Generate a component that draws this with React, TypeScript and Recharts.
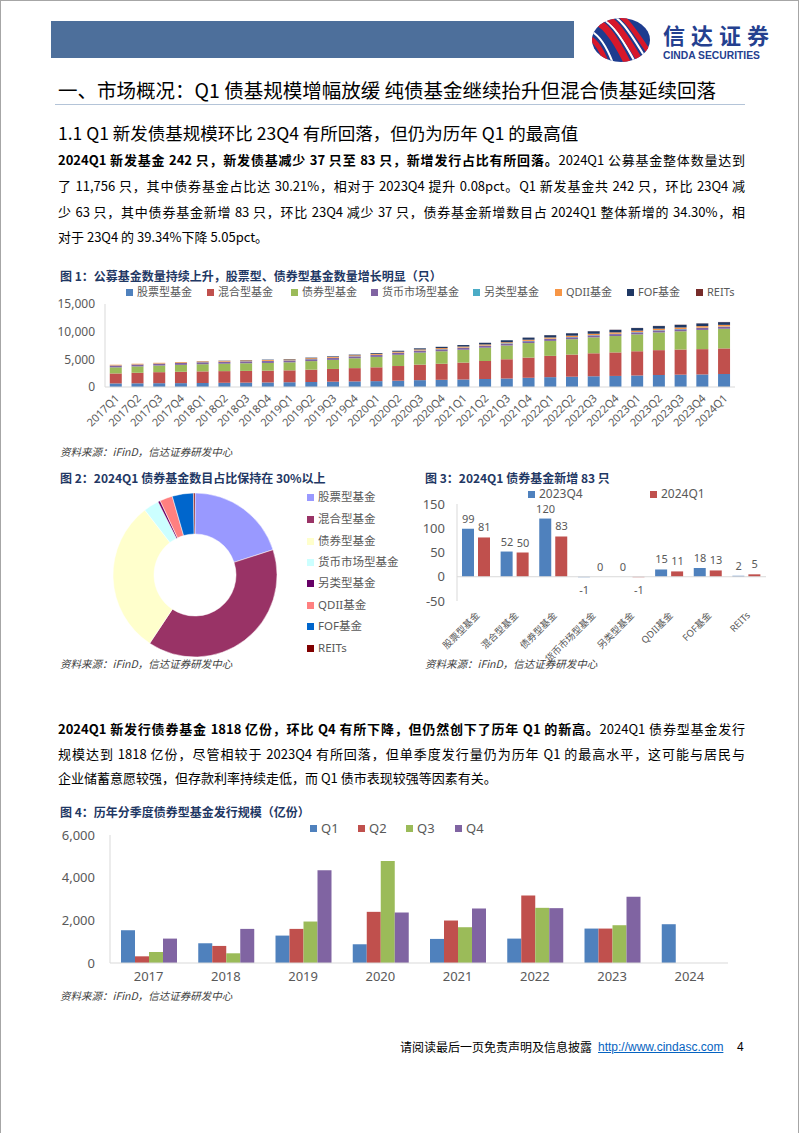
import React from 'react';
import { BarChart, ComposedChart, Bar, Line, XAxis, YAxis, PieChart, Pie, Cell, LabelList, ReferenceLine } from 'recharts';

// ---------- Figure 1 data (number of public funds by type) ----------
const quarters = ['2017Q1','2017Q2','2017Q3','2017Q4','2018Q1','2018Q2','2018Q3','2018Q4','2019Q1','2019Q2','2019Q3','2019Q4','2020Q1','2020Q2','2020Q3','2020Q4','2021Q1','2021Q2','2021Q3','2021Q4','2022Q1','2022Q2','2022Q3','2022Q4','2023Q1','2023Q2','2023Q3','2023Q4','2024Q1'];
const stockFunds = [650,670,690,700,720,760,790,820,860,900,960,1010,1060,1140,1240,1300,1360,1450,1550,1670,1780,1860,1940,2000,2080,2170,2230,2272,2353];
const mixedFunds = [1800,1900,1990,2050,2100,2110,2120,2130,2150,2230,2300,2400,2500,2650,2800,2900,3050,3250,3450,3650,3850,4000,4150,4250,4380,4490,4540,4570,4620];
const bondFunds = [1100,1150,1200,1250,1300,1340,1380,1400,1450,1550,1640,1780,1880,2030,2180,2260,2320,2400,2500,2620,2700,2780,2880,2960,3050,3200,3300,3469,3552];
const moneyFunds = [330,335,340,345,345,340,340,340,335,335,335,335,335,335,335,335,335,335,335,335,340,345,350,350,355,355,355,355,355];
const altFunds = [20,20,22,22,25,28,30,30,32,35,37,40,42,45,48,50,52,54,55,56,56,56,57,57,57,57,56,56,55];
const qdiiFunds = [125,128,132,135,140,145,150,155,158,162,165,170,175,180,185,190,195,200,205,215,225,235,245,255,265,272,280,284,295];
const fofFunds = [0,0,0,6,30,45,60,70,80,95,105,120,140,170,200,230,270,300,340,380,410,430,450,460,468,472,475,477,490];
const reitsFunds = [0,0,0,0,0,0,0,0,0,0,0,0,0,0,0,0,2,9,9,11,12,14,20,24,25,28,29,31,36];
const fundTypeNames = ['股票型基金','混合型基金','债券型基金','货币市场型基金','另类型基金','QDII基金','FOF基金','REITs'];
const fund1Ticks = [0, 5000, 10000, 15000];

// ---------- Figure 3 data (new funds) ----------
const newCats = ['股票型基金','混合型基金','债券型基金','货币市场型基金','另类型基金','QDII基金','FOF基金','REITs'];
const new2023Q4 = [99,52,120,-1,0,15,18,2];
const new2024Q1 = [81,50,83,0,-1,11,13,5];
const fig3Ticks = [-50, 0, 50, 100, 150];

// ---------- Figure 4 data (bond fund issuance, 亿份) ----------
const years = ['2017','2018','2019','2020','2021','2022','2023','2024'];
const issueQ1 = [1536,925,1285,878,1129,1144,1614,1818];
const issueQ2 = [313,800,1599,2398,1991,3166,1614,null];
const issueQ3 = [517,455,1944,4781,1677,2586,1771,null];
const issueQ4 = [1144,1599,4342,2367,2555,2571,3103,null];
const fig4Ticks = [0, 2000, 4000, 6000];

// ---------- styling ----------
const fig1Colors = ['#4F81BD','#C0504D','#9BBB59','#8064A2','#4BACC6','#F79646','#1F3864','#772C2A'];
const pieColors = ['#9999FF','#993366','#FFFFCC','#CCFFFF','#660066','#FF8080','#0066CC','#800000'];
const qColors = ['#4F81BD','#C0504D','#9BBB59','#8064A2'];
const CJK = "'Noto Sans CJK SC', 'Noto Sans', sans-serif";
const CHART_FONT = "'Noto Sans', 'Noto Sans CJK SC', sans-serif";
const AXIS_GRAY = '#D9D9D9';
const TXT_GRAY = '#595959';
const TITLE_BLUE = '#1F3864';

const fundSeries = [stockFunds, mixedFunds, bondFunds, moneyFunds, altFunds, qdiiFunds, fofFunds, reitsFunds];
const fundKeys = ['stock','mixed','bond','money','alt','qdii','fof','reits'];
const fundData = quarters.map((q, i) => {
  const row: any = { q };
  fundKeys.forEach((k, j) => { row[k] = fundSeries[j][i]; });
  return row;
});
const pieData = fundTypeNames.map((name, j) => ({ name, value: fundSeries[j][fundSeries[j].length - 1] }));
const newData = newCats.map((c, i) => ({ c, q4: new2023Q4[i], q1: new2024Q1[i] }));
const issueData = years.map((y, i) => ({ y, Q1: issueQ1[i], Q2: issueQ2[i], Q3: issueQ3[i], Q4: issueQ4[i] }));

const fmt = (v: number) => v.toLocaleString('en-US');

function T({ x, y, size, children, style }: any) {
  return (
    <div style={{ position: 'absolute', left: x, top: y - size * 0.7, fontSize: size, lineHeight: `${size * 1.4}px`, whiteSpace: 'nowrap', ...style }}>
      {children}
    </div>
  );
}

function JLine({ x, y, children, last }: any) {
  return (
    <div style={{ position: 'absolute', left: x, top: y - 9, width: 687, fontSize: 13, lineHeight: '18px', textAlign: 'justify', textAlignLast: last ? 'left' : 'justify', color: '#000', fontFamily: CJK } as any}>
      {children}
    </div>
  );
}

function LegendItem({ x, y, color, label, size = 11 }: any) {
  return (
    <div style={{ position: 'absolute', left: x, top: y - 7, height: 14, display: 'flex', alignItems: 'center', whiteSpace: 'nowrap', fontFamily: CHART_FONT, fontSize: size, lineHeight: '14px', color: TXT_GRAY }}>
      <span style={{ display: 'inline-block', width: 7, height: 7, background: color, marginRight: 4 }} />
      <span>{label}</span>
    </div>
  );
}

function RotTick(props: any) {
  const { x, y, payload, fs, ox, oy } = props;
  return (
    <g transform={`translate(${x + ox},${y + oy}) rotate(-45)`}>
      <text x={0} y={0} textAnchor="end" fontSize={fs} fill={TXT_GRAY} fontFamily={CHART_FONT}>{payload.value}</text>
    </g>
  );
}

// labels for figure 3: drawn at each value point, shifted onto its bar (bar 12px, gap 4px)
const makePointLabel = (shift: number) => (props: any) => {
  const { x, y, value } = props;
  if (x == null || y == null) return null;
  const ty = value >= 0 ? y - 6 : y + 17;
  return <text x={x + shift} y={ty} textAnchor="middle" fontSize={11} fill={TXT_GRAY} fontFamily={CHART_FONT}>{value}</text>;
};

function Logo() {
  return (
    <svg width={66} height={48} style={{ position: 'absolute', left: 588, top: 16 }}>
      <defs>
        <clipPath id="lc"><ellipse cx={33} cy={24} rx={29} ry={22} /></clipPath>
      </defs>
      <ellipse cx={33} cy={24} rx={29} ry={22} fill="#1D3C8F" />
      <g clipPath="url(#lc)">
        <path d="M-2 4 C 14 2, 26 20, 40 48" stroke="#D7182A" strokeWidth={7} fill="none" />
        <path d="M4 0 C 20 0, 32 18, 48 48" stroke="#fff" strokeWidth={2} fill="none" />
        <path d="M8 -2 C 24 -2, 36 18, 54 48" stroke="#D7182A" strokeWidth={6} fill="none" />
        <path d="M14 -4 C 30 -4, 42 16, 60 46" stroke="#fff" strokeWidth={2} fill="none" />
        <path d="M18 -6 C 34 -6, 46 14, 66 44" stroke="#D7182A" strokeWidth={5} fill="none" />
        <path d="M-6 14 C 8 12, 18 28, 26 50" stroke="#fff" strokeWidth={2} fill="none" />
        <path d="M-8 20 C 4 18, 14 32, 20 52" stroke="#D7182A" strokeWidth={5} fill="none" />
      </g>
    </svg>
  );
}

export default function App() {
  return (
    <div style={{ position: 'absolute', left: 0, top: 0, width: 802, height: 1133, background: '#fff', overflow: 'hidden', fontFamily: CJK }}>
      {/* page border */}
      <div style={{ position: 'absolute', left: 0, top: 0, width: 797, height: 1140, borderLeft: '1px solid #A6A6A6', borderTop: '1px solid #A6A6A6', borderRight: '1px solid #A6A6A6' }} />

      {/* header */}
      <div style={{ position: 'absolute', left: 51, top: 21, width: 523, height: 37, background: '#4D6F9B' }} />
      <Logo />
      <div style={{ position: 'absolute', left: 663, top: 23, fontSize: 22, lineHeight: '22px', fontWeight: 700, color: '#24408F', letterSpacing: 6, fontFamily: CJK }}>信达证券</div>
      <div style={{ position: 'absolute', left: 663, top: 51, fontSize: 10.3, lineHeight: '10px', fontWeight: 700, color: '#24408F', fontFamily: "'Liberation Sans', Arial, sans-serif" }}>CINDA SECURITIES</div>

      <T x={58} y={90} size={19.5} style={{ color: '#000' }}>一、市场概况：Q1 债基规模增幅放缓 纯债基金继续抬升但混合债基延续回落</T>
      <div style={{ position: 'absolute', left: 55, top: 104, width: 690, height: 1, background: '#B4C4D8' }} />
      <T x={58} y={133} size={17.5} style={{ color: '#000' }}>1.1 Q1 新发债基规模环比 23Q4 有所回落，但仍为历年 Q1 的最高值</T>

      {/* paragraph 1 */}
      <JLine x={58} y={160}><b>2024Q1 新发基金 242 只，新发债基减少 37 只至 83 只，新增发行占比有所回落。</b>2024Q1 公募基金整体数量达到</JLine>
      <JLine x={58} y={186}>了 11,756 只，其中债券基金占比达 30.21%，相对于 2023Q4 提升 0.08pct。Q1 新发基金共 242 只，环比 23Q4 减</JLine>
      <JLine x={58} y={212}>少 63 只，其中债券基金新增 83 只，环比 23Q4 减少 37 只，债券基金新增数目占 2024Q1 整体新增的 34.30%，相</JLine>
      <JLine x={58} y={237} last>对于 23Q4 的 39.34%下降 5.05pct。</JLine>

      {/* Figure 1 */}
      <T x={60} y={276} size={12} style={{ color: TITLE_BLUE, fontWeight: 700 }}>图 1：公募基金数量持续上升，股票型、债券型基金数量增长明显（只）</T>
      {[126, 207, 291, 371, 473, 555, 627, 696].map((lx, i) => (
        <LegendItem key={i} x={lx} y={292} color={fig1Colors[i]} label={fundTypeNames[i]} />
      ))}
      <div style={{ position: 'absolute', left: 0, top: 285 }}>
        <BarChart width={760} height={147} data={fundData} margin={{ top: 19, right: 25, bottom: 0, left: 55 }} barCategoryGap="22%">
          <XAxis dataKey="q" interval={0} height={45} tickLine={false} tickSize={0} axisLine={{ stroke: AXIS_GRAY }}
            tick={(p: any) => <RotTick {...p} fs={11} ox={4} oy={10} />} />
          <YAxis width={50} domain={[0, 15000]} ticks={fund1Ticks} tickFormatter={fmt} tickLine={false} tickSize={0} tickMargin={10}
            axisLine={{ stroke: AXIS_GRAY }} tick={{ fontSize: 12, fill: TXT_GRAY, fontFamily: CHART_FONT }} />
          {fundKeys.map((k, i) => (
            <Bar key={k} dataKey={k} stackId="a" fill={fig1Colors[i]} isAnimationActive={false} />
          ))}
        </BarChart>
      </div>
      <T x={60} y={452} size={10.5} style={{ color: '#404040', fontStyle: 'italic' }}>资料来源：iFinD，信达证券研发中心</T>

      {/* Figure 2 */}
      <T x={60} y={478} size={12} style={{ color: TITLE_BLUE, fontWeight: 700 }}>图 2：2024Q1 债券基金数目占比保持在 30%以上</T>
      <div style={{ position: 'absolute', left: 100, top: 480 }}>
        <PieChart width={180} height={180}>
          <Pie data={pieData} dataKey="value" nameKey="name" cx={90} cy={90} innerRadius={41} outerRadius={82}
            startAngle={90} endAngle={-270} stroke="#fff" strokeWidth={0.5} isAnimationActive={false}>
            {pieData.map((d, i) => <Cell key={d.name} fill={pieColors[i]} />)}
          </Pie>
        </PieChart>
      </div>
      {[497, 519, 541, 562, 583, 605, 626, 648].map((ly, i) => (
        <LegendItem key={i} x={307} y={ly} color={pieColors[i]} label={fundTypeNames[i]} size={11.5} />
      ))}
      <T x={60} y={664} size={10.5} style={{ color: '#404040', fontStyle: 'italic' }}>资料来源：iFinD，信达证券研发中心</T>

      {/* Figure 3 */}
      <T x={425} y={478} size={12} style={{ color: TITLE_BLUE, fontWeight: 700 }}>图 3：2024Q1 债券基金新增 83 只</T>
      <LegendItem x={528} y={494} color={qColors[0]} label="2023Q4" size={12} />
      <LegendItem x={650} y={494} color={qColors[1]} label="2024Q1" size={12} />
      <div style={{ position: 'absolute', left: 400, top: 485 }}>
        <ComposedChart width={380} height={190} data={newData} margin={{ top: 19, right: 14, bottom: 14, left: 20 }} barGap={4} barSize={12}>
          <XAxis dataKey="c" interval={0} height={60} axisLine={false} tickLine={false} tickSize={0}
            tick={(p: any) => <RotTick {...p} fs={9.5} ox={4} oy={13} />} />
          <YAxis width={37} domain={[-50, 150]} ticks={fig3Ticks} tickLine={false} tickSize={0} tickMargin={12}
            axisLine={{ stroke: AXIS_GRAY }} tick={{ fontSize: 13, fill: TXT_GRAY, fontFamily: CHART_FONT }} />
          <ReferenceLine y={0} stroke={AXIS_GRAY} />
          <Bar dataKey="q4" fill={qColors[0]} isAnimationActive={false} />
          <Bar dataKey="q1" fill={qColors[1]} isAnimationActive={false} />
          <Line dataKey="q4" stroke="none" dot={false} activeDot={false} legendType="none" isAnimationActive={false}>
            <LabelList dataKey="q4" content={makePointLabel(-8)} />
          </Line>
          <Line dataKey="q1" stroke="none" dot={false} activeDot={false} legendType="none" isAnimationActive={false}>
            <LabelList dataKey="q1" content={makePointLabel(8)} />
          </Line>
        </ComposedChart>
      </div>
      <T x={425} y={664} size={10.5} style={{ color: '#404040', fontStyle: 'italic' }}>资料来源：iFinD，信达证券研发中心</T>

      {/* paragraph 2 */}
      <JLine x={58} y={729}><b>2024Q1 新发行债券基金 1818 亿份，环比 Q4 有所下降，但仍然创下了历年 Q1 的新高。</b>2024Q1 债券型基金发行</JLine>
      <JLine x={58} y={754}>规模达到 1818 亿份，尽管相较于 2023Q4 有所回落，但单季度发行量仍为历年 Q1 的最高水平，这可能与居民与</JLine>
      <JLine x={58} y={778} last>企业储蓄意愿较强，但存款利率持续走低，而 Q1 债市表现较强等因素有关。</JLine>

      {/* Figure 4 */}
      <T x={60} y={812} size={12} style={{ color: TITLE_BLUE, fontWeight: 700 }}>图 4：历年分季度债券型基金发行规模（亿份）</T>
      {['Q1', 'Q2', 'Q3', 'Q4'].map((q, i) => (
        <LegendItem key={q} x={[310, 358, 406, 455][i]} y={828} color={qColors[i]} label={q} size={13} />
      ))}
      <div style={{ position: 'absolute', left: 0, top: 820 }}>
        <BarChart width={760} height={168} data={issueData} margin={{ top: 15, right: 32, bottom: 0, left: 60 }} barGap={0} barSize={14}>
          <XAxis dataKey="y" interval={0} height={25} tickLine={false} tickSize={0} tickMargin={9} axisLine={{ stroke: AXIS_GRAY }}
            tick={{ fontSize: 13, fill: TXT_GRAY, fontFamily: CHART_FONT }} />
          <YAxis width={50} domain={[0, 6000]} ticks={fig4Ticks} tickFormatter={fmt} tickLine={false} tickSize={0} tickMargin={15}
            axisLine={{ stroke: AXIS_GRAY }} tick={{ fontSize: 13, fill: TXT_GRAY, fontFamily: CHART_FONT }} />
          {['Q1', 'Q2', 'Q3', 'Q4'].map((k, i) => (
            <Bar key={k} dataKey={k} fill={qColors[i]} isAnimationActive={false} />
          ))}
        </BarChart>
      </div>
      <T x={60} y={996} size={10.5} style={{ color: '#404040', fontStyle: 'italic' }}>资料来源：iFinD，信达证券研发中心</T>

      {/* footer */}
      <T x={400} y={1047} size={12} style={{ color: '#000' }}>请阅读最后一页免责声明及信息披露</T>
      <T x={598} y={1047} size={12} style={{ color: '#0563C1', textDecoration: 'underline', fontFamily: "'Liberation Sans', Arial, sans-serif" }}>http://www.cindasc.com</T>
      <T x={737} y={1047} size={12} style={{ color: '#000', fontFamily: "'Liberation Sans', Arial, sans-serif" }}>4</T>
    </div>
  );
}
